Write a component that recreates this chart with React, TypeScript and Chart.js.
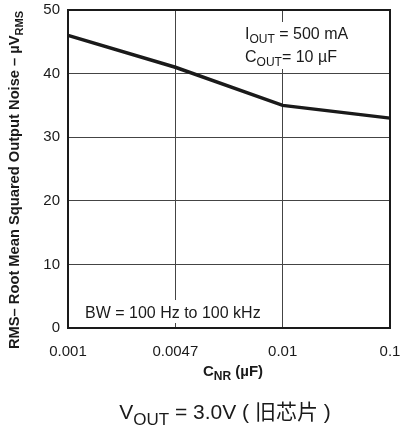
import React, { useEffect, useRef } from "react";
import { Chart, registerables } from "chart.js";

Chart.register(...registerables);

const categories = ["0.001", "0.0047", "0.01", "0.1"];
const noise = [46, 41, 35, 33];
const yMin = 0;
const yMax = 50;
const yStep = 10;

const LATIN = '"Liberation Sans", Arial, sans-serif';
const MIX = '"Liberation Sans", "Noto Sans CJK SC", sans-serif';

type Part = { t: string; sub?: boolean };

function drawRich(
  ctx: CanvasRenderingContext2D,
  parts: Part[],
  x: number,
  y: number,
  size: number,
  weight: string,
  family: string,
  align: "left" | "center",
  subScale = 0.72
) {
  const fontFor = (p: Part) => `${weight} ${p.sub ? Math.round(size * subScale) : size}px ${family}`;
  let total = 0;
  const widths = parts.map((p) => {
    ctx.font = fontFor(p);
    const w = ctx.measureText(p.t).width;
    total += w;
    return w;
  });
  let cx = align === "center" ? x - total / 2 : x;
  ctx.textBaseline = "alphabetic";
  ctx.textAlign = "left";
  parts.forEach((p, i) => {
    ctx.font = fontFor(p);
    ctx.fillText(p.t, cx, p.sub ? y + size * 0.28 : y);
    cx += widths[i];
  });
}

const decorPlugin = {
  id: "decor",
  beforeDatasetsDraw(chart: any) {
    const ctx: CanvasRenderingContext2D = chart.ctx;
    ctx.save();
    ctx.fillStyle = "#ffffff";
    ctx.fillRect(240, 22, 115, 47);
    ctx.fillRect(78, 300, 190, 23);
    ctx.restore();
  },
  afterDraw(chart: any) {
    const ctx: CanvasRenderingContext2D = chart.ctx;
    const a = chart.chartArea;
    ctx.save();
    ctx.strokeStyle = "#1a1a1a";
    ctx.lineWidth = 2;
    ctx.strokeRect(a.left, a.top, a.right - a.left, a.bottom - a.top);

    ctx.fillStyle = "#1a1a1a";
    drawRich(ctx, [{ t: "I" }, { t: "OUT", sub: true }, { t: " = 500 mA" }], 245, 39, 16, "", LATIN, "left", 0.75);
    drawRich(ctx, [{ t: "C" }, { t: "OUT", sub: true }, { t: "= 10 \u00b5F" }], 245, 62, 16, "", LATIN, "left", 0.75);
    drawRich(ctx, [{ t: "BW = 100 Hz to 100 kHz" }], 85, 318, 16, "", LATIN, "left");

    drawRich(ctx, [{ t: "C" }, { t: "NR", sub: true }, { t: " (\u00b5F)" }], 233, 376, 15, "bold", LATIN, "center", 0.8);

    drawRich(
      ctx,
      [{ t: "V" }, { t: "OUT", sub: true }, { t: " = 3.0V ( \u65e7\u82af\u7247 )" }],
      225,
      419,
      21,
      "",
      MIX,
      "center",
      0.8
    );

    ctx.save();
    ctx.translate(19, 180);
    ctx.rotate(-Math.PI / 2);
    drawRich(
      ctx,
      [{ t: "RMS\u2013 Root Mean Squared Output Noise \u2013 \u00b5V" }, { t: "RMS", sub: true }],
      0,
      0,
      14.7,
      "bold",
      LATIN,
      "center",
      0.78
    );
    ctx.restore();
    ctx.restore();
  },
};

const zeroPad = (s: any) => {
  s.paddingTop = 0;
  s.paddingBottom = 0;
  s.paddingLeft = 0;
  s.paddingRight = 0;
};

export default function App() {
  const ref = useRef<HTMLCanvasElement | null>(null);
  useEffect(() => {
    document.body.style.margin = "0";
    if (!ref.current) return;
    const chart = new Chart(ref.current, {
      type: "line",
      data: {
        labels: categories,
        datasets: [
          {
            data: noise,
            borderColor: "#1a1a1a",
            borderWidth: 3.5,
            pointRadius: 0,
            tension: 0,
            fill: false,
          },
        ],
      },
      options: {
        animation: false,
        responsive: false,
        devicePixelRatio: 1,
        layout: { autoPadding: false, padding: { left: 0, top: 10, right: 13, bottom: 0 } },
        plugins: { legend: { display: false }, tooltip: { enabled: false } },
        scales: {
          x: {
            type: "category",
            offset: false,
            grid: { color: "#444", lineWidth: 1, drawTicks: false },
            border: { display: false },
            ticks: {
              color: "#1a1a1a",
              padding: 15,
              maxRotation: 0,
              autoSkip: false,
              font: { size: 15, family: LATIN },
            },
            afterFit: (s: any) => {
              s.height = 97;
              zeroPad(s);
            },
          },
          y: {
            min: yMin,
            max: yMax,
            grid: { color: "#444", lineWidth: 1, drawTicks: false },
            border: { display: false },
            ticks: {
              stepSize: yStep,
              color: "#1a1a1a",
              padding: 8,
              font: { size: 15, family: LATIN },
            },
            afterFit: (s: any) => {
              s.width = 68;
              zeroPad(s);
            },
          },
        },
      },
      plugins: [decorPlugin],
    });
    return () => chart.destroy();
  }, []);
  return (
    <div style={{ position: "absolute", left: 0, top: 0, width: 403, height: 425, background: "#fff" }}>
      <canvas ref={ref} width={403} height={425} style={{ width: 403, height: 425 }} />
    </div>
  );
}
